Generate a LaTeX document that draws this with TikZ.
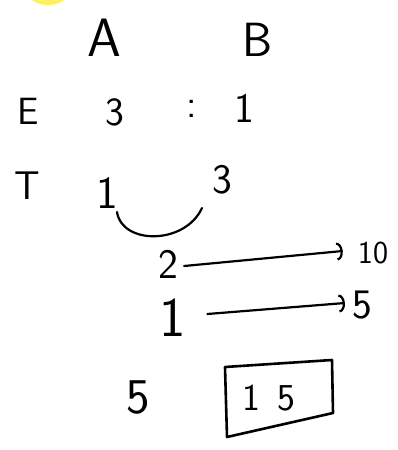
\documentclass[tikz,border=0pt]{standalone}
\usepackage{fontspec}
\usetikzlibrary{arrows.meta}
\newcommand{\fsz}[1]{\fontsize{#1}{#1}\selectfont}
\begin{document}
\begin{tikzpicture}[x=1pt,y=-1pt,
  lbl/.style={font=\sffamily, inner sep=1pt},
  ink/.style={line width=2.2pt, line cap=round, line join=round},
  arr/.style={ink, -{Arc Barb[length=6pt,width=18pt,line width=2.2pt]}}]
\useasboundingbox (0,0) rectangle (398,450);
\fill[white] (0,0) rectangle (398,450);
\begin{scope}
\clip (0,0) rectangle (398,450);
\fill[yellow!90!orange!60] (48,-5) ellipse (18 and 10);
\end{scope}
% header
\node[lbl, font=\sffamily\fsz{54}] (hA) at (104,38) {A};
\node[lbl, font=\sffamily\fsz{48}] (hB) at (258,40) {B};
% E row
\node[lbl, font=\sffamily\fsz{38}] (rE) at (28,111) {E};
\node[lbl, font=\sffamily\fsz{40}] (e3) at (115,112) {3};
\node[lbl, font=\sffamily\fsz{40}] (ecol) at (192,109) {:};
\node[lbl, font=\sffamily\fsz{42}] (e1) at (244,108) {1};
% T row
\node[lbl, font=\sffamily\fsz{40}] (rT) at (27,186) {T};
\node[lbl, font=\sffamily\fsz{46}] (t1) at (107,193) {1};
\node[lbl, font=\sffamily\fsz{42}] (t3) at (222,180) {3};
\coordinate (cs) at (117,212);
\coordinate (ce) at (202,208);
\draw[ink] (cs) .. controls (122,245) and (185,245) .. (ce);
% products
\node[lbl, font=\sffamily\fsz{42}] (p2) at (168,264) {2};
\node[lbl, font=\sffamily\fsz{32}] (p10) at (373,253) {10};
\draw[arr] ([xshift=5pt,yshift=-2pt]p2.east) -- ([xshift=-14pt,yshift=2pt]p10.west);
\node[lbl, font=\sffamily\fsz{56}] (p1) at (173,318) {1};
\node[lbl, font=\sffamily\fsz{42}] (p5) at (362,305) {5};
\draw[arr] ([xshift=20pt,yshift=4pt]p1.east) -- ([xshift=-6pt,yshift=2pt]p5.west);
% result
\node[lbl, font=\sffamily\fsz{50}] (r5) at (138,397) {5};
\node[lbl, font=\sffamily\fsz{38}] (r15) at (269,398) {1\hspace{18pt}5};
\draw[ink, line width=2.6pt] (225,367) -- (332,360) -- (333,413) -- (227,437) -- cycle;
\end{tikzpicture}
\end{document}
